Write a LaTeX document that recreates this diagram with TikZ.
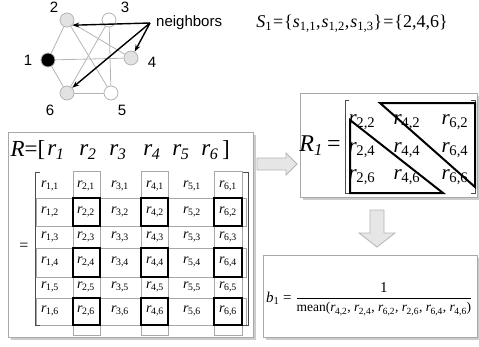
\documentclass[tikz,border=0pt]{standalone}
\usepackage{fontspec}
\setmainfont{Liberation Serif}
\newfontfamily\arialfont{Liberation Sans}
\usetikzlibrary{shadows,arrows.meta}
\definecolor{edgegray}{HTML}{B4B4B4}
\definecolor{nodefill}{HTML}{E2E2E2}
\definecolor{boxgray}{HTML}{A8A8A8}
\definecolor{arrfill}{HTML}{E6E6E6}
\newcommand{\rr}[1]{\textit{r}\kern-0.5pt\textsubscript{#1}}
\newcommand{\fs}[1]{\fontsize{#1}{#1}\selectfont}
\begin{document}
\begin{tikzpicture}[x=1pt,y=-1pt,
 gnode/.style={circle,draw=edgegray,line width=0.8pt,minimum size=14pt,inner sep=0pt},
 gedge/.style={draw=edgegray,line width=0.8pt},
 nbarrow/.style={-{Stealth[length=7pt,width=5pt]},line width=1.4pt},
 glabel/.style={font=\arialfont\fs{15},inner sep=0pt},
 panel/.style={draw=boxgray,line width=0.9pt,fill=white,inner sep=0pt,anchor=north west,
   drop shadow={shadow xshift=2.5pt,shadow yshift=-2.5pt,fill=black!40}},
 cell/.style={font=\fs{14},inner sep=0pt},
 thinbox/.style={draw=boxgray,line width=0.6pt},
 thickbox/.style={draw=black,line width=1.8pt},
 bracket/.style={draw=black!70,line width=0.8pt},
 blockarrow/.style={draw=edgegray,fill=arrfill,line width=0.8pt},
 bigr/.style={font=\fs{23},inner sep=0pt},
 rcell/.style={font=\fs{21},inner sep=0pt},
 tri/.style={draw=black,line width=2pt,line join=miter}
]
\useasboundingbox (0,0) rectangle (479,346);

% ---------- graph ----------
\node[gnode,fill=black] (n1) at (48,60) {};
\node[gnode,fill=nodefill] (n2) at (67,20) {};
\node[gnode,fill=white] (n3) at (109,20) {};
\node[gnode,fill=nodefill] (n4) at (131,58) {};
\node[gnode,fill=white] (n5) at (111,93) {};
\node[gnode,fill=nodefill] (n6) at (67,93) {};
\foreach \a/\b in {n1/n2,n1/n6,n1/n4,n2/n4,n2/n5,n3/n6,n3/n5,n6/n5}
  \draw[gedge] (\a) -- (\b);
\node[glabel] (l1) at (28,60) {1};
\node[glabel] (l2) at (54,7) {2};
\node[glabel] (l3) at (125,7) {3};
\node[glabel] (l4) at (152,62) {4};
\node[glabel] (l5) at (122,110) {5};
\node[glabel] (l6) at (50,110) {6};
\coordinate (src) at (150,23);
\node[glabel,anchor=west] (nb) at (156,23) {neighbors};
\draw[nbarrow] (src) -- (n2.-45);
\draw[nbarrow] (src) -- (n4.60);
\draw[nbarrow] (src) -- (n6.45);

\node[font=\fs{18},inner sep=0pt] (S1eq) at (352,24)
  {\textit{S}\textsubscript{1}\kern1pt=\kern1pt\{\textit{s}\textsubscript{1,1},\kern1pt\textit{s}\textsubscript{1,2},\kern1pt\textit{s}\textsubscript{1,3}\}\kern1pt=\kern1pt\{2,4,6\}};

% ---------- left panel ----------
\node[panel,minimum width=245pt,minimum height=205pt] (leftbox) at (8,132) {};
\node[bigr] (Req) at (28,150) {\textit{R}=[};
\foreach \i/\x in {1/56,2/88,3/118,4/152,5/181,6/210}
  \node[bigr] (rv\i) at (\x,152) {\rr{\textit{\i}}};
\node[bigr] (Rclose) at (226,150) {]};

\foreach \xa/\xb in {73/100,141/168,214/242}
  \draw[thinbox] (\xa,171) rectangle (\xb,335);
\foreach \ya/\yb in {198/226,248/277,298/325}
  \draw[thinbox] (36,\ya) rectangle (246,\yb);
\foreach \xa/\xb in {73/100,141/168,214/242}
  \foreach \ya/\yb in {198/226,248/277,298/325}
    \draw[thickbox] (\xa,\ya) rectangle (\xb,\yb);
\draw[bracket] (40,172) -- (35,172) -- (35,325) -- (40,325);
\draw[bracket] (243,172) -- (248,172) -- (248,325) -- (243,325);
\node[font=\fs{16},inner sep=0pt] (meq) at (24,247) {=};
\foreach \c/\x in {1/50,2/86,3/120,4/155,5/192,6/228}
  \foreach \r/\y in {1/186,2/212,3/237,4/262,5/287,6/311}
    \node[cell] (m\c\r) at (\x,\y) {\rr{\c,\r}};

% ---------- arrow to R1 ----------
\draw[blockarrow] (257,158) -- (286,158) -- (286,153) -- (297,164) -- (286,175) -- (286,170) -- (257,170) -- cycle;

% ---------- R1 panel ----------
\node[panel,minimum width=177pt,minimum height=104pt] (r1box) at (300,93) {};
\node[font=\fs{24},inner sep=0pt] (R1lab) at (320,146) {\textit{R}\textsubscript{\textit{1}}\,=};
\draw[bracket] (349,100) -- (345,100) -- (345,193) -- (349,193);
\draw[bracket] (471,100) -- (475,100) -- (475,193) -- (471,193);
\foreach \c/\x in {2/362,4/407,6/455}
  \foreach \r/\y in {2/122,4/150,6/177}
    \node[rcell] (q\c\r) at (\x,\y) {\rr{\c,\r}};
\draw[tri] (380,103) -- (475,103) -- (475,187) -- cycle;
\draw[tri] (350,120) -- (350,193) -- (443,193) -- cycle;

% ---------- down arrow ----------
\draw[blockarrow] (370,210) -- (384,210) -- (384,233) -- (395,233) -- (377,247) -- (359,233) -- (370,233) -- cycle;

% ---------- b1 panel ----------
\node[panel,minimum width=214pt,minimum height=82pt] (b1box) at (263,255) {};
\node[font=\fs{15},inner sep=0pt,anchor=west] (b1eq) at (266,299)
  {\textit{b}\textsubscript{1} = $\displaystyle\frac{\mbox{1}}{\mbox{\fs{13.5}mean(\rr{4,2}, \rr{2,4}, \rr{6,2}, \rr{2,6}, \rr{6,4}, \rr{4,6})}}$};
\end{tikzpicture}
\end{document}
